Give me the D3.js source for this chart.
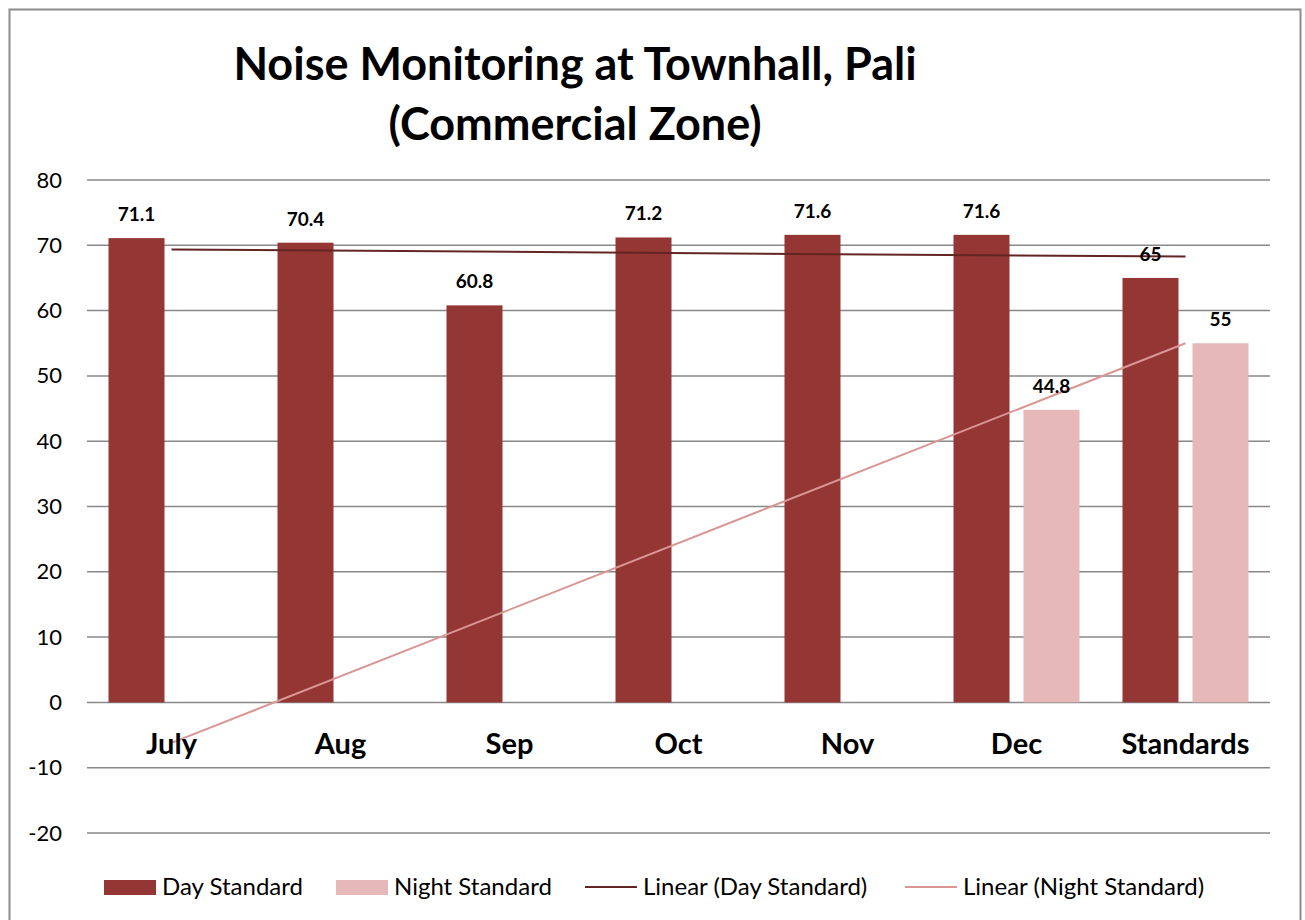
<!DOCTYPE html>
<html>
<head>
<meta charset="utf-8">
<script src="https://cdn.jsdelivr.net/npm/d3@7"></script>
<style>
  body { margin: 0; background: #fff; }
  svg { display: block; font-family: Lato, "Open Sans", sans-serif; }
</style>
</head>
<body>
<div id="chart"></div>
<script>
// data
const categories = ['July', 'Aug', 'Sep', 'Oct', 'Nov', 'Dec', 'Standards']
const daySeries = [71.1, 70.4, 60.8, 71.2, 71.6, 71.6, 65]
const nightSeries = [null, null, null, null, null, 44.8, 55]
const yTicks = [-20, -10, 0, 10, 20, 30, 40, 50, 60, 70, 80]
const seriesNames = ['Day Standard', 'Night Standard']

const width = 1305, height = 920
const dayColor = '#943634', nightColor = '#e6b9b8'
const dayTrendColor = '#632523', nightTrendColor = '#d99694'

var svg = d3.select('#chart')
    .append('svg')
    .attr('width', width)
    .attr('height', height)

// outer frame
svg.append('rect')
    .attr('x', 9.5).attr('y', 9.5)
    .attr('width', 1291).attr('height', 930)
    .attr('fill', 'none')
    .attr('stroke', '#8c8c8c')
    .attr('stroke-width', 2)

var x = d3.scaleBand()
    .domain(categories)
    .range([87, 1270])
    .padding(0)

var x1 = d3.scaleBand()
    .domain(seriesNames)
    .range([21.5, 147.5])
    .paddingInner(0.2)
    .paddingOuter(0)

var y = d3.scaleLinear()
    .domain([-20, 80])
    .range([833, 180])

// gridlines
svg.append('g')
    .selectAll('line')
    .data(yTicks)
    .enter()
    .append('line')
    .attr('x1', 87).attr('x2', 1270)
    .attr('y1', d => y(d)).attr('y2', d => y(d))
    .attr('stroke', '#888')
    .attr('stroke-width', 1.5)

// y axis labels
svg.append('g')
    .attr('transform', 'translate(62,0)')
    .call(d3.axisLeft(y).tickValues(yTicks).tickFormat(d => String(d)).tickSize(0).tickPadding(0))
    .call(g => g.select('.domain').remove())
    .selectAll('text')
    .style('font-size', '22px')
    .style('font-family', 'Lato, sans-serif')
    .attr('fill', '#000')

// bars
var rows = categories.map((c, i) => ({ cat: c, values: [daySeries[i], nightSeries[i]] }))
var colors = [dayColor, nightColor]

rows.forEach(r => {
    r.values.forEach((v, j) => {
        if (v == null) return
        var bx = x(r.cat) + x1(seriesNames[j])
        svg.append('rect')
            .attr('x', bx)
            .attr('y', y(v))
            .attr('width', x1.bandwidth())
            .attr('height', y(0) - y(v))
            .attr('fill', colors[j])
    })
})

// linear trendlines (least squares over present points)
function trend(values) {
    var pts = values.map((v, i) => [i, v]).filter(p => p[1] != null)
    var mx = d3.mean(pts, p => p[0]), my = d3.mean(pts, p => p[1])
    var sxy = d3.sum(pts, p => (p[0] - mx) * (p[1] - my))
    var sxx = d3.sum(pts, p => (p[0] - mx) * (p[0] - mx))
    var b = sxy / sxx
    var a = my - b * mx
    var last = values.length - 1
    return [[0, a], [last, a + b * last]]
}

var cx = i => x(categories[i]) + x.bandwidth() / 2
var line = d3.line().x(d => cx(d[0])).y(d => y(d[1]))

svg.append('path')
    .attr('d', line(trend(nightSeries)))
    .attr('stroke', nightTrendColor)
    .attr('stroke-width', 2)
    .attr('fill', 'none')

svg.append('path')
    .attr('d', line(trend(daySeries)))
    .attr('stroke', dayTrendColor)
    .attr('stroke-width', 2)
    .attr('fill', 'none')

// data labels
rows.forEach(r => {
    r.values.forEach((v, j) => {
        if (v == null) return
        svg.append('text')
            .attr('x', x(r.cat) + x1(seriesNames[j]) + x1.bandwidth() / 2)
            .attr('y', y(v) - 17)
            .attr('text-anchor', 'middle')
            .style('font-size', '19px')
            .style('font-weight', 'bold')
            .text(v)
    })
})

// category labels
svg.append('g')
    .selectAll('text')
    .data(categories)
    .enter()
    .append('text')
    .attr('x', d => x(d) + x.bandwidth() / 2)
    .attr('y', 754)
    .attr('text-anchor', 'middle')
    .style('font-size', '29px')
    .style('font-weight', 'bold')
    .text(d => d)

// title
var title = svg.append('text')
    .attr('text-anchor', 'middle')
    .style('font-size', '45px')
    .style('font-weight', 'bold')
title.append('tspan').attr('x', 575).attr('y', 80).text('Noise Monitoring at Townhall, Pali')
title.append('tspan').attr('x', 575).attr('y', 140).text('(Commercial Zone)')

// legend
var legendItems = [
    { name: 'Day Standard', type: 'rect', color: dayColor, x: 104 },
    { name: 'Night Standard', type: 'rect', color: nightColor, x: 336 },
    { name: 'Linear (Day Standard)', type: 'line', color: dayTrendColor, x: 585 },
    { name: 'Linear (Night Standard)', type: 'line', color: nightTrendColor, x: 905 }
]
var lg = svg.append('g')
legendItems.forEach(d => {
    if (d.type === 'rect') {
        lg.append('rect')
            .attr('x', d.x).attr('y', 880)
            .attr('width', 52).attr('height', 15)
            .attr('fill', d.color)
    } else {
        lg.append('line')
            .attr('x1', d.x).attr('x2', d.x + 52)
            .attr('y1', 887).attr('y2', 887)
            .attr('stroke', d.color)
            .attr('stroke-width', 2)
    }
    lg.append('text')
        .attr('x', d.x + 58)
        .attr('y', 895)
        .style('font-size', '24px')
        .text(d.name)
})
</script>
</body>
</html>
